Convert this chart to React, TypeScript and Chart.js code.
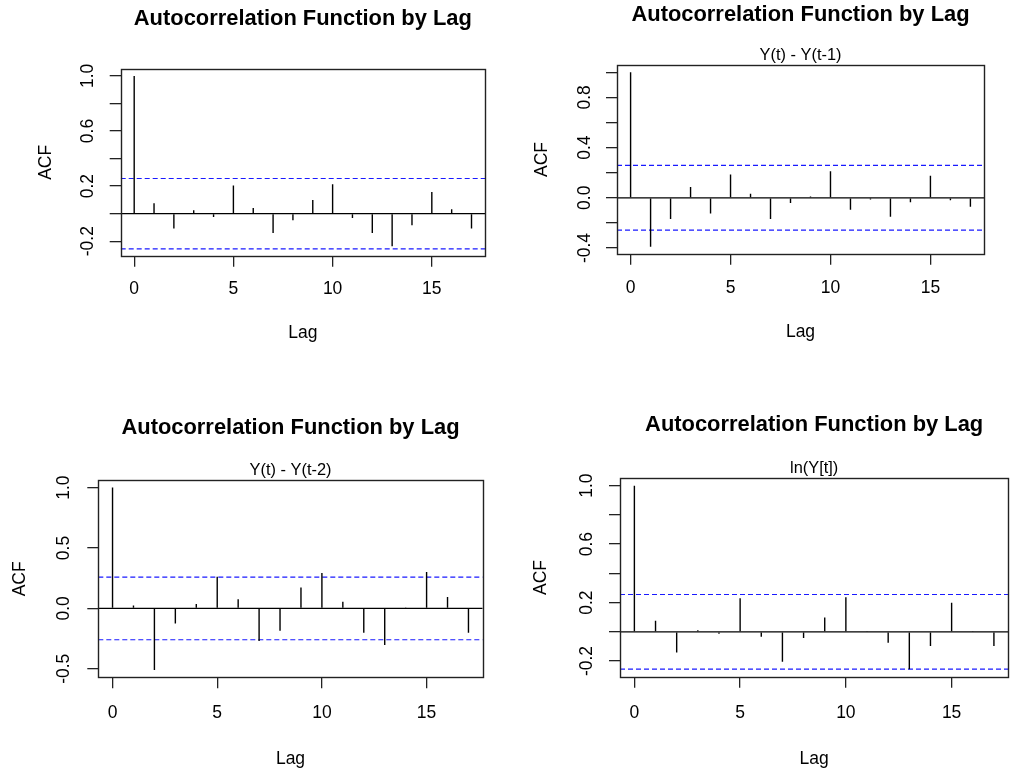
import React, { useEffect, useRef } from 'react';
import { Chart, registerables } from 'chart.js';

Chart.register(...registerables);

// ---------------- data ----------------
const lags = [0, 1, 2, 3, 4, 5, 6, 7, 8, 9, 10, 11, 12, 13, 14, 15, 16, 17];

const acfRaw = [1, 0.075, -0.108, 0.024, -0.024, 0.205, 0.041, -0.14, -0.048, 0.099, 0.214, -0.031, -0.14, -0.236, -0.084, 0.157, 0.031, -0.108];
const acfDiff1 = [1, -0.39, -0.17, 0.085, -0.125, 0.186, 0.032, -0.17, -0.042, 0.011, 0.212, -0.096, -0.013, -0.151, -0.035, 0.175, -0.019, -0.072];
const acfDiff2 = [1, 0.025, -0.51, -0.124, 0.036, 0.262, 0.075, -0.27, -0.185, 0.174, 0.292, 0.055, -0.201, -0.304, 0.003, 0.301, 0.094, -0.201];
const acfLog = [1, 0.075, -0.141, 0.011, -0.014, 0.23, -0.034, -0.205, -0.043, 0.098, 0.237, 0.002, -0.075, -0.257, -0.098, 0.198, 0.002, -0.098];

// 95% confidence bounds (±)
const ciBounds = [0.2552, 0.2574, 0.2596, 0.2552];

const xTickValues = [0, 5, 10, 15];
const xTickLabels = ['0', '5', '10', '15'];

const yTicksRaw = [-0.2, 0, 0.2, 0.4, 0.6, 0.8, 1.0];
const yLabelsRaw = ['-0.2', '', '0.2', '', '0.6', '', '1.0'];
const yTicksDiff1 = [-0.4, -0.2, 0, 0.2, 0.4, 0.6, 0.8, 1.0];
const yLabelsDiff1 = ['-0.4', '', '0.0', '', '0.4', '', '0.8', ''];
const yTicksDiff2 = [-0.5, 0, 0.5, 1.0];
const yLabelsDiff2 = ['-0.5', '0.0', '0.5', '1.0'];
const yTicksLog = [-0.2, 0, 0.2, 0.4, 0.6, 0.8, 1.0];
const yLabelsLog = ['-0.2', '', '0.2', '', '0.6', '', '1.0'];

const mainTitle = 'Autocorrelation Function by Lag';
const subTitles = ['', 'Y(t) - Y(t-1)', 'Y(t) - Y(t-2)', 'ln(Y[t])'];
const xAxisTitle = 'Lag';
const yAxisTitle = 'ACF';

// ---------------- styling / layout ----------------
const FONT = '"Liberation Sans", Arial, Helvetica, sans-serif';
const AXIS_SIZE = 17.5;
const TITLE_SIZE = 21.9;
const SUB_SIZE = 16.4;
const TICK_LEN = 11;
const FRAME_COLOR = '#222';

type Layout = {
  canvas: [number, number, number, number];
  box: [number, number, number, number];
  titleY: number;
  subY: number;
  xLabY: number;
  lagY: number;
  acfX: number;
  yLabX: number;
};

const layouts: Layout[] = [
  { canvas: [0, 0, 505, 385], box: [120.7, 69, 485, 255.7], titleY: 19, subY: 0, xLabY: 289.3, lagY: 333.3, acfX: 45.7, yLabX: 88.3 },
  { canvas: [505, 0, 506, 385], box: [617, 65.3, 984, 253.7], titleY: 15, subY: 55, xLabY: 288.3, lagY: 331.7, acfX: 542.3, yLabX: 585 },
  { canvas: [0, 385, 505, 386], box: [98.3, 480.3, 482.7, 677.3], titleY: 428.3, subY: 470, xLabY: 713.3, lagY: 759.3, acfX: 20, yLabX: 64.3 },
  { canvas: [505, 385, 506, 386], box: [620, 478.3, 1008.3, 676.7], titleY: 425, subY: 468.3, xLabY: 713, lagY: 759, acfX: 540.7, yLabX: 586.7 },
];

const panelData = [
  { acf: acfRaw, yTicks: yTicksRaw, yLabels: yLabelsRaw },
  { acf: acfDiff1, yTicks: yTicksDiff1, yLabels: yLabelsDiff1 },
  { acf: acfDiff2, yTicks: yTicksDiff2, yLabels: yLabelsDiff2 },
  { acf: acfLog, yTicks: yTicksLog, yLabels: yLabelsLog },
];

Chart.defaults.font.family = FONT;
Chart.defaults.color = '#000';

function measureWidest(labels: string[]): number {
  const c = document.createElement('canvas');
  const ctx = c.getContext('2d')!;
  ctx.font = `normal ${AXIS_SIZE}px ${FONT}`;
  let w = 0;
  for (const l of labels) w = Math.max(w, ctx.measureText(l).width);
  return w;
}

const boxPlugin = {
  id: 'plotBox',
  afterDatasetsDraw(chart: any) {
    const { ctx, chartArea } = chart;
    const l = Math.round(chartArea.left) + 0.5;
    const t = Math.round(chartArea.top) + 0.5;
    const r = Math.round(chartArea.right) + 0.5;
    const b = Math.round(chartArea.bottom) + 0.5;
    ctx.save();
    ctx.strokeStyle = FRAME_COLOR;
    ctx.lineWidth = 1.4;
    ctx.strokeRect(l, t, r - l, b - t);
    ctx.restore();
  },
};

function buildConfig(idx: number): any {
  const lay = layouts[idx];
  const { acf, yTicks, yLabels } = panelData[idx];
  const ci = ciBounds[idx];
  const sub = subTitles[idx];
  const [cx, cy, cw, ch] = lay.canvas;
  const [L, T, R, B] = lay.box;
  const axisLH = AXIS_SIZE * 1.2;
  const titleLH = TITLE_SIZE * 1.2;
  const subLH = SUB_SIZE * 1.2;

  // R-style axis limits
  const xMin = lags[0] - 0.04 * (lags[lags.length - 1] - lags[0]);
  const xMax = lags[lags.length - 1] + 0.04 * (lags[lags.length - 1] - lags[0]);
  const lo = Math.min(Math.min(...acf), -ci);
  const hi = Math.max(Math.max(...acf), ci);
  const yMin = lo - 0.04 * (hi - lo);
  const yMax = hi + 0.04 * (hi - lo);

  const widest = measureWidest(yLabels);
  const yW = L - lay.acfX + axisLH / 2;
  const padLeft = L - cx - yW;
  const padRight = cx + cw - R;
  const yTickPad = Math.max(0, L - TICK_LEN - widest / 2 - lay.yLabX);
  const titlePadTop = Math.max(0, lay.titleY - cy - titleLH / 2);
  let titlePadBottom = 0, subPadTop = 0, subPadBottom = 0;
  if (sub) {
    subPadTop = Math.max(0, lay.subY - lay.titleY - titleLH / 2 - subLH / 2);
    subPadBottom = Math.max(0, T - lay.subY - subLH / 2);
  } else {
    titlePadBottom = Math.max(0, T - lay.titleY - titleLH / 2);
  }
  const xH = lay.lagY - B + axisLH / 2;
  const padBottom = cy + ch - B - xH;
  const xTickPad = Math.max(0, lay.xLabY - B - TICK_LEN - axisLH / 2);

  const axisFont = { family: FONT, size: AXIS_SIZE };

  return {
    type: 'bar',
    data: {
      datasets: [
        {
          type: 'bar',
          data: lags.map((x, i) => ({ x, y: acf[i] })),
          backgroundColor: '#000',
          borderWidth: 0,
          barThickness: 1.4,
          inflateAmount: 0,
          order: 0,
        },
        {
          type: 'line',
          data: [{ x: xMin, y: 0 }, { x: xMax, y: 0 }],
          borderColor: '#000',
          borderWidth: 1.3,
          pointRadius: 0,
          order: 1,
        },
        {
          type: 'line',
          data: [{ x: xMin, y: ci }, { x: xMax, y: ci }],
          borderColor: '#1a1aff',
          borderWidth: 1.2,
          borderDash: [5, 3],
          pointRadius: 0,
          order: 2,
        },
        {
          type: 'line',
          data: [{ x: xMin, y: -ci }, { x: xMax, y: -ci }],
          borderColor: '#1a1aff',
          borderWidth: 1.2,
          borderDash: [5, 3],
          pointRadius: 0,
          order: 3,
        },
      ],
    },
    options: {
      animation: false,
      responsive: false,
      events: [],
      layout: { padding: { left: padLeft, right: padRight, top: 0, bottom: padBottom } },
      plugins: {
        legend: { display: false },
        tooltip: { enabled: false },
        title: {
          display: true,
          text: mainTitle,
          color: '#000',
          fullSize: false,
          font: { family: FONT, size: TITLE_SIZE, weight: 'bold' },
          padding: { top: titlePadTop, bottom: titlePadBottom },
        },
        subtitle: {
          display: !!sub,
          text: sub,
          color: '#000',
          fullSize: false,
          font: { family: FONT, size: SUB_SIZE, weight: 'normal' },
          padding: { top: subPadTop, bottom: subPadBottom },
        },
      },
      scales: {
        x: {
          type: 'linear',
          min: xMin,
          max: xMax,
          offset: false,
          afterBuildTicks: (s: any) => {
            s.ticks = xTickValues.map((v) => ({ value: v }));
          },
          afterFit: (s: any) => {
            s.height = xH;
          },
          ticks: {
            autoSkip: false,
            maxRotation: 0,
            minRotation: 0,
            padding: xTickPad,
            color: '#000',
            font: axisFont,
            callback: (_v: any, i: number) => xTickLabels[i],
          },
          grid: {
            display: true,
            offset: false,
            drawOnChartArea: false,
            drawTicks: true,
            tickLength: TICK_LEN,
            tickColor: FRAME_COLOR,
            color: FRAME_COLOR,
            lineWidth: 1.3,
          },
          border: { display: false },
          title: { display: true, text: xAxisTitle, color: '#000', font: axisFont, padding: 0 },
        },
        y: {
          type: 'linear',
          min: yMin,
          max: yMax,
          afterBuildTicks: (s: any) => {
            s.ticks = yTicks.map((v) => ({ value: v }));
          },
          afterFit: (s: any) => {
            s.width = yW;
          },
          ticks: {
            autoSkip: false,
            minRotation: 90,
            maxRotation: 90,
            crossAlign: 'center',
            padding: yTickPad,
            color: '#000',
            font: axisFont,
            callback: (_v: any, i: number) => yLabels[i],
          },
          grid: {
            display: true,
            drawOnChartArea: false,
            drawTicks: true,
            tickLength: TICK_LEN,
            tickColor: FRAME_COLOR,
            color: FRAME_COLOR,
            lineWidth: 1.3,
          },
          border: { display: false },
          title: { display: true, text: yAxisTitle, color: '#000', font: axisFont, padding: 0 },
        },
      },
    },
    plugins: [boxPlugin],
  };
}

function Panel({ idx }: { idx: number }) {
  const ref = useRef<HTMLCanvasElement>(null);
  useEffect(() => {
    const chart = new Chart(ref.current!, buildConfig(idx));
    return () => chart.destroy();
  }, [idx]);
  const [cx, cy, cw, ch] = layouts[idx].canvas;
  return (
    <canvas
      ref={ref}
      width={cw}
      height={ch}
      style={{ position: 'absolute', left: cx, top: cy, width: cw, height: ch, display: 'block' }}
    />
  );
}

export default function App() {
  useEffect(() => {
    document.body.style.margin = '0';
  }, []);
  return (
    <div style={{ position: 'absolute', left: 0, top: 0, width: 1011, height: 771, background: '#fff', overflow: 'hidden' }}>
      {[0, 1, 2, 3].map((i) => (
        <Panel key={i} idx={i} />
      ))}
    </div>
  );
}
